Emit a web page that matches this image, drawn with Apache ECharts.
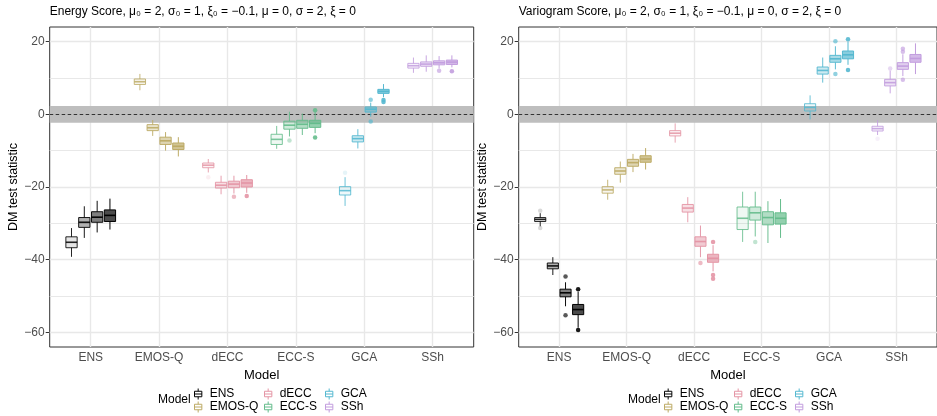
<!DOCTYPE html>
<html>
<head>
<meta charset="utf-8">
<script src="https://cdn.jsdelivr.net/npm/echarts@6/dist/echarts.min.js"></script>
<style>
  html, body { margin: 0; padding: 0; background: #fff; }
  #chart { width: 937px; height: 416px; }
</style>
</head>
<body>
<div id="chart"></div>
<script>
const models = ['ENS', 'EMOS-Q', 'dECC', 'ECC-S', 'GCA', 'SSh'];
const colors = ['#000000', '#BDAB66', '#E495A5', '#65BC8C', '#55B8D0', '#C29DDE'];
const yTicks = [-60, -40, -20, 0, 20];
const yMinor = [-50, -30, -10, 10];

// box rows: [whisker low, q1, median, q3, whisker high], one per group (4 per model)
// Energy Score panel
const esENS   = [[-39.2, -36.7, -35.2, -33.7, -31.3], [-34.0, -31.1, -29.7, -28.4, -25.3], [-32.5, -29.7, -28.3, -26.8, -23.8], [-31.7, -29.5, -27.8, -26.3, -23.2]];
const esEMOSQ = [[6.6, 8.2, 8.95, 9.7, 11.1], [-5.95, -4.5, -3.7, -2.85, -1.6], [-10.0, -8.3, -7.3, -6.3, -4.9], [-11.6, -9.7, -8.8, -7.9, -6.3]];
const esDECC  = [[-16.0, -14.7, -14.0, -13.4, -12.3], [-22.0, -20.3, -19.5, -18.7, -16.9], [-21.8, -20.2, -19.2, -18.4, -16.9], [-21.6, -20.0, -18.9, -18.0, -16.7]];
const esECCS  = [[-9.5, -8.3, -6.9, -5.5, -3.2], [-6.1, -4.1, -3.0, -1.9, 0.7], [-5.7, -3.85, -2.75, -1.65, 0.2], [-5.2, -3.6, -2.5, -1.65, 0.6]];
const esGCA   = [[-25.2, -22.2, -21.0, -19.9, -17.3], [-9.4, -7.6, -6.7, -5.9, -4.1], [-0.65, 0.6, 1.4, 2.0, 3.2], [4.7, 5.75, 6.3, 6.85, 8.3]];
const esSSh   = [[11.4, 12.7, 13.35, 14.0, 15.6], [11.7, 13.2, 13.8, 14.4, 16.2], [12.6, 13.6, 14.15, 14.7, 16.0], [12.9, 13.7, 14.35, 14.9, 16.2]];
// outliers: [model index, group index, value]
const esOutliers = [[2, 0, -17.3], [2, 2, -22.7], [2, 3, -22.5], [3, 1, -7.2], [3, 3, 1.1], [3, 3, -6.4],
  [4, 0, -16.1], [4, 2, 4.0], [4, 2, -2.0], [4, 3, 3.9], [4, 3, 3.4], [5, 2, 12.0], [5, 3, 11.8]];

// Variogram Score panel
const vsENS   = [[-30.8, -29.5, -28.9, -28.4, -27.2], [-44.2, -42.5, -41.7, -40.9, -39.3], [-52.8, -50.2, -49.1, -48.1, -46.2], [-58.7, -55.1, -53.7, -52.3, -48.8]];
const vsEMOSQ = [[-23.5, -21.7, -20.8, -19.9, -18.0], [-18.8, -16.5, -15.6, -14.7, -13.0], [-15.9, -14.3, -13.3, -12.4, -10.9], [-15.2, -13.2, -12.3, -11.4, -9.3]];
const vsDECC  = [[-7.8, -5.95, -5.2, -4.5, -2.5], [-29.7, -26.9, -25.8, -24.8, -22.8], [-39.3, -36.3, -35.0, -33.7, -30.6], [-43.2, -40.7, -39.6, -38.5, -36.0]];
const vsECCS  = [[-35.1, -31.7, -28.6, -25.5, -21.3], [-33.6, -29.1, -27.1, -25.5, -21.3], [-35.4, -30.4, -28.4, -26.8, -23.9], [-34.0, -30.2, -28.6, -27.1, -23.3]];
const vsGCA   = [[-1.4, 0.9, 1.9, 2.9, 5.2], [8.7, 11.05, 12.05, 13.0, 15.6], [12.35, 14.3, 15.25, 16.2, 18.7], [13.6, 15.25, 16.35, 17.4, 20.0]];
const vsSSh   = [[-5.7, -4.6, -3.95, -3.3, -1.6], [5.75, 7.8, 8.7, 9.6, 12.0], [10.5, 12.35, 13.25, 14.2, 16.5], [11.05, 14.3, 15.35, 16.45, 19.5]];
const vsOutliers = [[0, 0, -26.5], [0, 0, -31.3], [0, 2, -44.6], [0, 2, -55.3], [0, 3, -48.1], [0, 3, -59.3],
  [2, 2, -40.9], [2, 3, -35.1], [2, 3, -44.2], [2, 3, -45.2], [3, 1, -35.1],
  [4, 2, 20.1], [4, 2, 11.1], [4, 3, 20.6], [4, 3, 12.15],
  [5, 0, -6.7], [5, 1, 12.6], [5, 2, 18.0], [5, 2, 17.2], [5, 2, 9.5]];

const titles = [
  'Energy Score, μ₀ = 2, σ₀ = 1, ξ₀ = −0.1, μ = 0, σ = 2, ξ = 0',
  'Variogram Score, μ₀ = 2, σ₀ = 1, ξ₀ = −0.1, μ = 0, σ = 2, ξ = 0'
];
const panels = [
  { boxes: [esENS, esEMOSQ, esDECC, esECCS, esGCA, esSSh], outliers: esOutliers },
  { boxes: [vsENS, vsEMOSQ, vsDECC, vsECCS, vsGCA, vsSSh], outliers: vsOutliers }
];

const BOX_W = 0.165;
const OFFS = [-0.281, -0.094, 0.094, 0.281];
const LINE_A = [0.85, 0.9, 0.95, 1];
const FILL_A = [0.1, 0.3, 0.5, 0.7];
const OUT_A = [0.15, 0.4, 0.65, 0.9];
const BAND = 2.3;

function rgba(hex, a) {
  const n = parseInt(hex.slice(1), 16);
  return 'rgba(' + (n >> 16) + ',' + ((n >> 8) & 255) + ',' + (n & 255) + ',' + a + ')';
}

function makeRender(color) {
  return function (params, api) {
    const x = api.value(0), g = api.value(6);
    const lo = api.coord([x, api.value(1)]);
    const q1 = api.coord([x, api.value(2)]);
    const md = api.coord([x, api.value(3)]);
    const q3 = api.coord([x, api.value(4)]);
    const hi = api.coord([x, api.value(5)]);
    const half = api.size([BOX_W, 0])[0] / 2;
    const cx = lo[0];
    const stroke = rgba(color, LINE_A[g]);
    return {
      type: 'group',
      children: [
        { type: 'line', shape: { x1: cx, y1: hi[1], x2: cx, y2: q3[1] }, style: { stroke: stroke, lineWidth: 1 } },
        { type: 'line', shape: { x1: cx, y1: q1[1], x2: cx, y2: lo[1] }, style: { stroke: stroke, lineWidth: 1 } },
        { type: 'rect', shape: { x: cx - half, y: q3[1], width: half * 2, height: q1[1] - q3[1] },
          style: { fill: rgba(color, FILL_A[g]), stroke: stroke, lineWidth: 1 } },
        { type: 'line', shape: { x1: cx - half, y1: md[1], x2: cx + half, y2: md[1] }, style: { stroke: stroke, lineWidth: 1.6 } }
      ]
    };
  };
}

const gridDefs = [
  { left: 49.7, top: 27, width: 424, height: 320, show: true, borderColor: '#333', borderWidth: 1, backgroundColor: 'transparent' },
  { left: 518.7, top: 27, width: 423.5, height: 320, show: true, borderColor: '#333', borderWidth: 1, backgroundColor: 'transparent' }
];

const xAxes = [], yAxes = [], series = [], legends = [], titleComps = [];
const fontFam = 'Liberation Sans, Arial, sans-serif';

panels.forEach(function (panel, p) {
  xAxes.push({
    type: 'value', gridIndex: p, min: 0.4, max: 6.6,
    name: 'Model', nameLocation: 'middle', nameGap: 19,
    nameTextStyle: { fontSize: 13, color: '#000', fontFamily: fontFam },
    axisLine: { show: false },
    axisTick: { show: true, length: 4, lineStyle: { color: '#333' }, customValues: [1, 2, 3, 4, 5, 6] },
    axisLabel: { customValues: [1, 2, 3, 4, 5, 6], margin: 5, fontSize: 12, color: '#4D4D4D', fontFamily: fontFam,
      formatter: function (v) { return models[Math.round(v) - 1]; } },
    splitLine: { show: false }
  });
  yAxes.push({
    type: 'value', gridIndex: p, min: -64, max: 24,
    name: 'DM test statistic', nameLocation: 'middle', nameGap: 25,
    nameTextStyle: { fontSize: 12.5, color: '#000', fontFamily: fontFam },
    axisLine: { show: false },
    axisTick: { show: true, length: 4, lineStyle: { color: '#333' }, customValues: yTicks },
    axisLabel: { customValues: yTicks, margin: 5, fontSize: 12, color: '#4D4D4D', fontFamily: fontFam,
      formatter: function (v) { return String(v).replace('-', '−'); } },
    splitLine: { show: false }
  });

  // gridlines, band and reference line
  const gl = [];
  yTicks.forEach(function (v) { gl.push({ yAxis: v, lineStyle: { width: 1.4 } }); });
  yMinor.forEach(function (v) { gl.push({ yAxis: v, lineStyle: { width: 1 } }); });
  [1, 2, 3, 4, 5, 6].forEach(function (v) { gl.push({ xAxis: v, lineStyle: { width: 1.4 } }); });
  series.push({
    type: 'line', xAxisIndex: p, yAxisIndex: p, data: [], silent: true, z: 1,
    markLine: { z: 1, silent: true, symbol: 'none', label: { show: false }, animation: false,
      lineStyle: { color: '#E8E8E8', type: 'solid' }, emphasis: { disabled: true }, data: gl }
  });
  series.push({
    type: 'line', xAxisIndex: p, yAxisIndex: p, data: [], silent: true, z: 1,
    markArea: { z: 1.2, silent: true, itemStyle: { color: '#BEBEBE', opacity: 1 }, label: { show: false },
      emphasis: { disabled: true }, data: [[{ yAxis: -BAND }, { yAxis: BAND }]] }
  });
  series.push({
    type: 'line', xAxisIndex: p, yAxisIndex: p, data: [], silent: true, z: 1,
    markLine: { z: 1.4, silent: true, symbol: 'none', label: { show: false }, animation: false,
      lineStyle: { color: '#333', type: [3.5, 2.5], width: 1 }, emphasis: { disabled: true }, data: [{ yAxis: 0 }] }
  });

  panel.boxes.forEach(function (rows, i) {
    series.push({
      type: 'custom', name: models[i], xAxisIndex: p, yAxisIndex: p, z: 2,
      itemStyle: { color: colors[i] },
      encode: { x: 0, y: [1, 2, 3, 4, 5] },
      renderItem: makeRender(colors[i]),
      data: rows.map(function (b, g) { return [i + 1 + OFFS[g]].concat(b).concat([g]); })
    });
    const outs = panel.outliers.filter(function (o) { return o[0] === i; }).map(function (o) {
      return { value: [i + 1 + OFFS[o[1]], o[2]], itemStyle: { opacity: OUT_A[o[1]] } };
    });
    series.push({
      type: 'scatter', name: models[i], xAxisIndex: p, yAxisIndex: p, z: 2.1,
      symbol: 'circle', symbolSize: 4.5, itemStyle: { color: colors[i] }, data: outs
    });
  });

  titleComps.push({
    text: titles[p], left: gridDefs[p].left, top: 6, padding: 0,
    textStyle: { fontSize: 12, fontWeight: 'normal', color: '#000', fontFamily: fontFam }
  });
  const dx = p * 470;
  titleComps.push({
    text: 'Model', left: 158 + dx, top: 394, padding: 0,
    textStyle: { fontSize: 12, fontWeight: 'normal', color: '#000', fontFamily: fontFam }
  });
  const colX = [194, 264, 325];
  const rowY = [394, 407];
  models.forEach(function (m, i) {
    const col = Math.floor(i / 2), row = i % 2;
    legends.push({
      left: colX[col] + dx, top: rowY[row] - 7, padding: 0, itemGap: 0,
      itemWidth: 9, itemHeight: 11, selectedMode: false,
      textStyle: { fontSize: 12, color: '#000', fontFamily: fontFam, padding: [0, 0, 0, 2], lineHeight: 14 },
      data: [{ name: m, icon: 'path://M4.5,0V3M0.5,3H8.5V9H0.5ZM0.5,6H8.5M4.5,9V12',
        itemStyle: { color: 'transparent', borderColor: colors[i], borderWidth: 1 } }]
    });
  });
});

const chart = echarts.init(document.getElementById('chart'), null, { renderer: 'canvas' });
chart.setOption({
  animation: false,
  backgroundColor: '#fff',
  textStyle: { fontFamily: fontFam },
  title: titleComps,
  legend: legends,
  grid: gridDefs,
  xAxis: xAxes,
  yAxis: yAxes,
  series: series
});
</script>
</body>
</html>
